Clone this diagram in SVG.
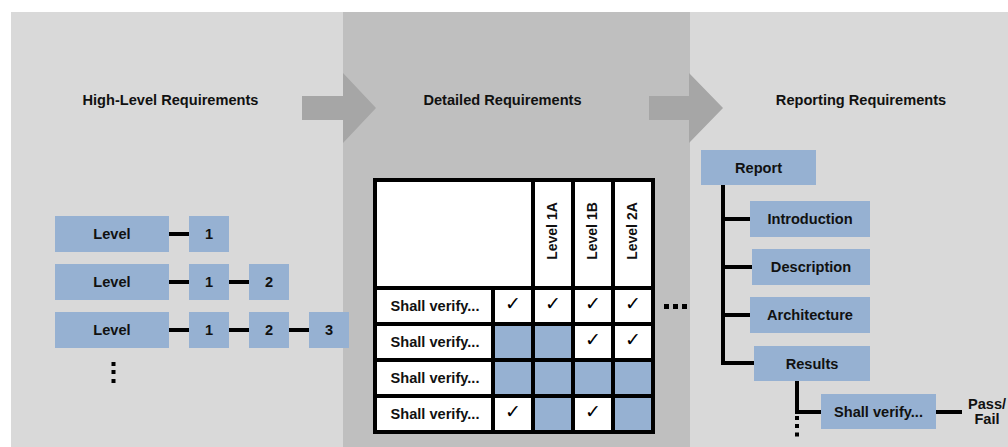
<svg xmlns="http://www.w3.org/2000/svg" width="1008" height="447" viewBox="0 0 1008 447">
<style>
.t{font-family:"Liberation Sans",Arial,sans-serif;font-weight:bold;font-size:14.6px;fill:#111;text-anchor:middle}
.h{font-size:14px}
.n{fill:#96b1d2}
.c{stroke:#000;stroke-width:4;fill:none}
.g{stroke:#000;stroke-width:4;fill:none;stroke-linecap:square}
.ck{font-family:"DejaVu Sans",sans-serif;font-size:19px;fill:#000;text-anchor:middle}
.d{fill:#000}
</style>
<rect width="1008" height="447" fill="#fff"/>
<g id="panels">
<rect x="11" y="12" width="332" height="435" fill="#d9d9d9"/>
<rect x="343" y="12" width="347" height="435" fill="#bfbfbf"/>
<rect x="690" y="12" width="318" height="435" fill="#d9d9d9"/>
<path d="M302 96H343V73L376 108L343 143V120H302Z" fill="#a6a6a6"/>
<path d="M649 96H689V73L723 108L689 143V120H649Z" fill="#a6a6a6"/>
<text class="t" x="170.5" y="105">High-Level Requirements</text>
<text class="t" x="502.5" y="105">Detailed Requirements</text>
<text class="t" x="861" y="105">Reporting Requirements</text>
</g>
<g id="connectors">
<path class="c" d="M169 234H189M169 282H189M229 282H249M169 330H189M229 330H249M289 330H309"/>
<path class="c" d="M723 185V363H754M723 219H750M723 267H752M723 315H750"/>
<path class="c" d="M797 381V412H821M936 412H962"/>
</g>
<g id="level-row-1">
<rect class="n" x="55" y="216" width="114" height="36"/><text class="t" x="112" y="239">Level</text>
<rect class="n" x="189" y="216" width="40" height="36"/><text class="t" x="209" y="239">1</text>
</g>
<g id="level-row-2">
<rect class="n" x="55" y="264" width="114" height="36"/><text class="t" x="112" y="287">Level</text>
<rect class="n" x="189" y="264" width="40" height="36"/><text class="t" x="209" y="287">1</text>
<rect class="n" x="249" y="264" width="40" height="36"/><text class="t" x="269" y="287">2</text>
</g>
<g id="level-row-3">
<rect class="n" x="55" y="312" width="114" height="36"/><text class="t" x="112" y="335">Level</text>
<rect class="n" x="189" y="312" width="40" height="36"/><text class="t" x="209" y="335">1</text>
<rect class="n" x="249" y="312" width="40" height="36"/><text class="t" x="269" y="335">2</text>
<rect class="n" x="309" y="312" width="40" height="36"/><text class="t" x="329" y="335">3</text>
</g>
<g id="left-dots">
<rect class="d" x="111.5" y="362" width="4" height="4"/>
<rect class="d" x="111.5" y="370" width="4" height="4"/>
<rect class="d" x="111.5" y="379" width="4" height="4"/>
</g>
<g id="matrix">
<rect x="375" y="180" width="278" height="252" fill="#fff"/>
<rect class="n" x="493" y="324" width="80" height="36"/>
<rect class="n" x="493" y="360" width="160" height="36"/>
<rect class="n" x="533" y="396" width="40" height="36"/>
<rect class="n" x="613" y="396" width="40" height="36"/>
<path class="g" d="M375 180H653V432H375Z M533 180V432 M573 180V432 M613 180V432 M493 288V432 M375 288H653 M375 324H653 M375 360H653 M375 396H653"/>
<text class="t h" transform="translate(557 231) rotate(-90)">Level 1A</text>
<text class="t h" transform="translate(597 231) rotate(-90)">Level 1B</text>
<text class="t h" transform="translate(637 231) rotate(-90)">Level 2A</text>
<text class="t" x="435" y="311">Shall verify...</text>
<text class="t" x="435" y="347">Shall verify...</text>
<text class="t" x="435" y="383">Shall verify...</text>
<text class="t" x="435" y="419">Shall verify...</text>
<text class="ck" x="513" y="310">✓</text>
<text class="ck" x="553" y="310">✓</text>
<text class="ck" x="593" y="310">✓</text>
<text class="ck" x="633" y="310">✓</text>
<text class="ck" x="593" y="346">✓</text>
<text class="ck" x="633" y="346">✓</text>
<text class="ck" x="513" y="418">✓</text>
<text class="ck" x="593" y="418">✓</text>
<rect class="d" x="664" y="304" width="5" height="5"/>
<rect class="d" x="673" y="304" width="5" height="5"/>
<rect class="d" x="682" y="304" width="5" height="5"/>
</g>
<g id="report"><rect class="n" x="701" y="150" width="115" height="35"/><text class="t" x="758.5" y="172.5">Report</text></g>
<g id="introduction"><rect class="n" x="750" y="201" width="120" height="36"/><text class="t" x="810" y="224">Introduction</text></g>
<g id="description"><rect class="n" x="752" y="249" width="118" height="36"/><text class="t" x="811" y="272">Description</text></g>
<g id="architecture"><rect class="n" x="750" y="297" width="120" height="36"/><text class="t" x="810" y="320">Architecture</text></g>
<g id="results"><rect class="n" x="754" y="346" width="116" height="35"/><text class="t" x="812" y="368.5">Results</text></g>
<g id="shall-verify"><rect class="n" x="821" y="394" width="115" height="35"/><text class="t" x="878.5" y="416.5">Shall verify...</text></g>
<g id="pass-fail"><text class="t" x="987" y="408.5">Pass/</text><text class="t" x="987" y="423.5">Fail</text></g>
<g id="right-dots">
<rect class="d" x="795" y="416" width="4" height="4"/>
<rect class="d" x="795" y="424" width="4" height="4"/>
<rect class="d" x="795" y="432.5" width="4" height="4"/>
</g>
</svg>
